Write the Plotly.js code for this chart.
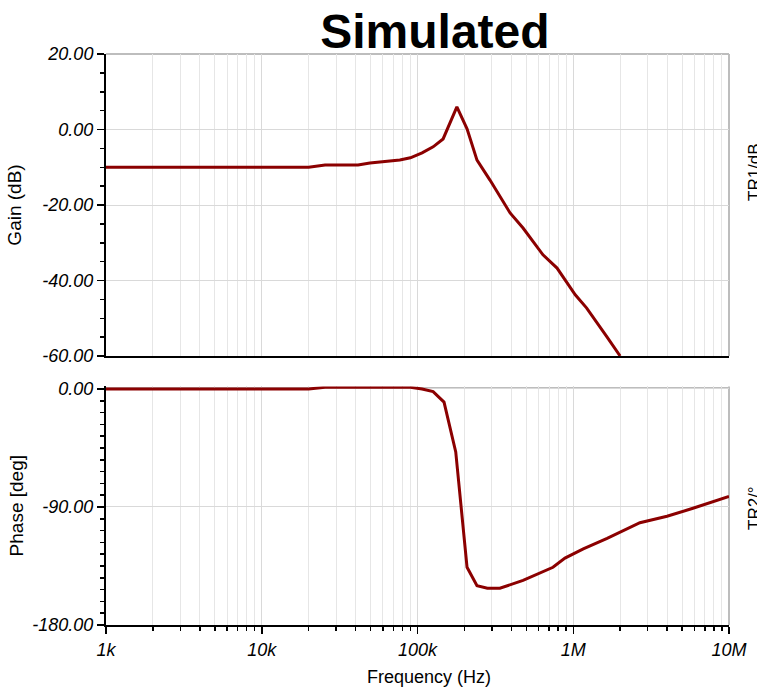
<!DOCTYPE html>
<html>
<head>
<meta charset="utf-8">
<script src="https://cdn.plot.ly/plotly-3.0.1.min.js"></script>
<style>html,body{margin:0;padding:0;background:#fff;}#chart{width:757px;height:687px;}</style>
</head>
<body>
<div id="chart"></div>
<script>
// Frequency (Hz) and gain (dB)
const gainFreq = [1000, 20000, 25500, 41500, 49500, 59000, 77000, 90000, 107000, 126000, 146000, 179000, 208000, 241000, 292000, 393000, 476000, 639000, 787000, 1030000, 1220000, 1650000, 2000000];
const gainDb   = [-10, -10, -9.4, -9.4, -8.9, -8.6, -8.1, -7.5, -6.2, -4.6, -2.5, 6.0, 0.2, -8.1, -13.4, -22.1, -26.1, -33.2, -36.7, -43.8, -47.3, -55.0, -60.0];

// Frequency (Hz) and phase (deg)
const phaseFreq = [1000, 20000, 25500, 90000, 107000, 126000, 148000, 176000, 208000, 241000, 281000, 338000, 476000, 612000, 741000, 885000, 1160000, 1650000, 2680000, 4000000, 5870000, 10000000];
const phaseDeg  = [0, 0, 1.3, 1.3, 0, -2, -10, -48, -136, -150, -152, -152, -146, -140, -136, -129, -122, -114, -102, -97, -91, -82];

// Tick labels
const freqTickVals = [1e3, 1e4, 1e5, 1e6, 1e7];
const freqTickText = ['1k', '10k', '100k', '1M', '10M'];
const gainTickVals = [20, 0, -20, -40, -60];
const gainTickText = ['20.00', '0.00', '-20.00', '-40.00', '-60.00'];
const phaseTickVals = [0, -90, -180];
const phaseTickText = ['0.00', '-90.00', '-180.00'];

const lineColor = '#8b0000';
const FONT = 'Liberation Sans, Arial, sans-serif';
const tickFont = {family: FONT, size: 18, color: '#000', style: 'italic'};

const traces = [
  {x: gainFreq, y: gainDb, xaxis: 'x2', yaxis: 'y2', mode: 'lines', line: {color: lineColor, width: 3}, hoverinfo: 'skip'},
  {x: phaseFreq, y: phaseDeg, xaxis: 'x', yaxis: 'y', mode: 'lines', line: {color: lineColor, width: 3}, hoverinfo: 'skip'}
];

const xCommon = {
  type: 'log', range: [3, 7],
  tickvals: freqTickVals, ticktext: freqTickText,
  showgrid: true, gridcolor: '#d9d9d9', gridwidth: 1,
  showline: true, linecolor: '#000', linewidth: 2,
  zeroline: false,
  minor: {dtick: 'D1', showgrid: true, gridcolor: '#e6e6e6', gridwidth: 1, ticks: 'outside', ticklen: 4, tickcolor: '#000'},
  ticks: 'outside', ticklen: 7, tickcolor: '#000', tickwidth: 1.5,
  tickfont: tickFont
};

const layout = {
  width: 757, height: 687,
  margin: {l: 106, r: 28, t: 54, b: 62},
  paper_bgcolor: '#fff', plot_bgcolor: '#fff',
  showlegend: false,
  title: {text: '<b>Simulated</b>', font: {family: FONT, size: 48, color: '#000'}, x: 0.528, xanchor: 'center', xref: 'paper', y: 0.955, yanchor: 'middle'},
  xaxis: Object.assign({}, xCommon, {anchor: 'y', domain: [0, 1]}),
  xaxis2: Object.assign({}, xCommon, {anchor: 'y2', domain: [0, 1], matches: 'x', showticklabels: false, ticks: '', minor: {dtick: 'D1', showgrid: true, gridcolor: '#e6e6e6', gridwidth: 1}}),
  yaxis: {
    domain: [0, 0.4179], range: [-180, 2],
    tickvals: phaseTickVals, ticktext: phaseTickText,
    showgrid: true, gridcolor: '#d9d9d9', zeroline: false,
    showline: true, linecolor: '#000', linewidth: 2,
    ticks: 'outside', ticklen: 7, tickcolor: '#000', tickwidth: 1.5,
    minor: {tickvals: [-9,-18,-27,-36,-45,-54,-63,-72,-81,-99,-108,-117,-126,-135,-144,-153,-162,-171], ticks: 'outside', ticklen: 4, tickcolor: '#000', showgrid: false},
    tickfont: tickFont,
    title: {text: 'Phase [deg]', font: {family: FONT, size: 19, color: '#000'}, standoff: 4}
  },
  yaxis2: {
    domain: [0.4711, 1], range: [-60, 20],
    tickvals: gainTickVals, ticktext: gainTickText,
    showgrid: true, gridcolor: '#d9d9d9', zeroline: false,
    showline: true, linecolor: '#000', linewidth: 2,
    ticks: 'outside', ticklen: 7, tickcolor: '#000', tickwidth: 1.5,
    minor: {dtick: 5, ticks: 'outside', ticklen: 4, tickcolor: '#000', showgrid: false},
    tickfont: tickFont,
    title: {text: 'Gain (dB)', font: {family: FONT, size: 19, color: '#000'}, standoff: 16}
  },
  shapes: [
    {type: 'line', layer: 'below', xref: 'x2 domain', yref: 'y2 domain', x0: 0, x1: 1, y0: 1, y1: 1, line: {color: '#bdbdbd', width: 2}},
    {type: 'line', layer: 'below', xref: 'x2 domain', yref: 'y2 domain', x0: 1, x1: 1, y0: 0, y1: 1, line: {color: '#bdbdbd', width: 2}},
    {type: 'line', layer: 'below', xref: 'x domain', yref: 'y', x0: 0, x1: 1, y0: 0.8, y1: 0.8, line: {color: '#bdbdbd', width: 2}},
    {type: 'line', layer: 'below', xref: 'x domain', yref: 'y domain', x0: 1, x1: 1, y0: 0, y1: 1, line: {color: '#bdbdbd', width: 2}}
  ],
  annotations: [
    {text: 'Frequency (Hz)', xref: 'paper', yref: 'paper', x: (429-106)/623, y: -(677-625)/571, showarrow: false, xanchor: 'center', yanchor: 'middle', font: {family: FONT, size: 18, color: '#000'}},
    {text: 'TR1/dB', xref: 'paper', yref: 'paper', x: 1 + 25/623, y: (687-62-172)/571, textangle: -90, showarrow: false, xanchor: 'center', yanchor: 'middle', font: {family: FONT, size: 17, color: '#000'}},
    {text: 'TR2/°', xref: 'paper', yref: 'paper', x: 1 + 25/623, y: (687-62-508)/571, textangle: -90, showarrow: false, xanchor: 'center', yanchor: 'middle', font: {family: FONT, size: 17, color: '#000'}}
  ]
};

Plotly.newPlot('chart', traces, layout, {staticPlot: true, displayModeBar: false});
</script>
</body>
</html>
